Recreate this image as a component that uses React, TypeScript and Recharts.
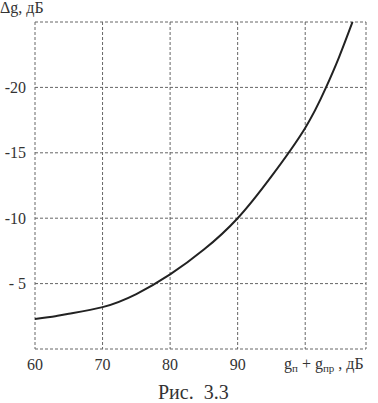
import { CartesianGrid, Line, LineChart, XAxis, YAxis } from "recharts";

// g_п + g_пр, дБ
const gSum = [60, 63, 65, 70, 75, 80, 85, 90, 95, 100, 103, 105, 107];
// Δg, дБ
const deltaG = [-2.3, -2.5, -2.7, -3.2, -4.2, -5.7, -7.6, -10, -13.2, -16.9, -19.9, -22.3, -25];

const xTicks = [60, 70, 80, 90, 100, 109];
const yTicks = [-25, -20, -15, -10, -5, 0];
const xLabels: Record<number, string> = { 60: "60", 70: "70", 80: "80", 90: "90" };
const yLabels: Record<number, string> = { [-20]: "-20", [-15]: "-15", [-10]: "-10", [-5]: "- 5" };

const data = gSum.map((g, i) => ({ g, d: deltaG[i] }));

const font = "'Liberation Serif', 'DejaVu Serif', serif";

export default function App() {
  return (
    <div style={{ position: "absolute", left: 0, top: 0, width: 378, height: 403, background: "#fff", fontFamily: font, color: "#333" }}>
      <LineChart width={378} height={403} data={data} margin={{ top: 22, right: 12, bottom: 24, left: 0 }}>
        <CartesianGrid stroke="#666" strokeDasharray="3 2" strokeWidth={1} />
        <XAxis
          dataKey="g"
          type="number"
          domain={[60, 109]}
          ticks={xTicks}
          tickFormatter={(v) => xLabels[v] ?? ""}
          axisLine={false}
          tickLine={false}
          tickSize={0}
          tickMargin={10}
          height={30}
          tick={{ fontSize: 16, fill: "#333", fontFamily: font }}
        />
        <YAxis
          type="number"
          domain={[-25, 0]}
          reversed
          ticks={yTicks}
          tickFormatter={(v) => yLabels[v] ?? ""}
          axisLine={false}
          tickLine={false}
          tickSize={0}
          tickMargin={9}
          width={35}
          tick={{ fontSize: 16, fill: "#333", fontFamily: font }}
        />
        <Line type="natural" dataKey="d" stroke="#222" strokeWidth={2} dot={false} isAnimationActive={false} />
      </LineChart>
      <div style={{ position: "absolute", left: 0, top: 0, fontSize: 16, lineHeight: "16px" }}>Δg, дБ</div>
      <div style={{ position: "absolute", left: 284, top: 355, fontSize: 16, whiteSpace: "nowrap" }}>
        g<span style={{ fontSize: 11, verticalAlign: -3 }}>п</span> + g<span style={{ fontSize: 11, verticalAlign: -3 }}>пр</span> , дБ
      </div>
      <div style={{ position: "absolute", left: 158, top: 381, fontSize: 20 }}>Рис.&nbsp; 3.3</div>
    </div>
  );
}
